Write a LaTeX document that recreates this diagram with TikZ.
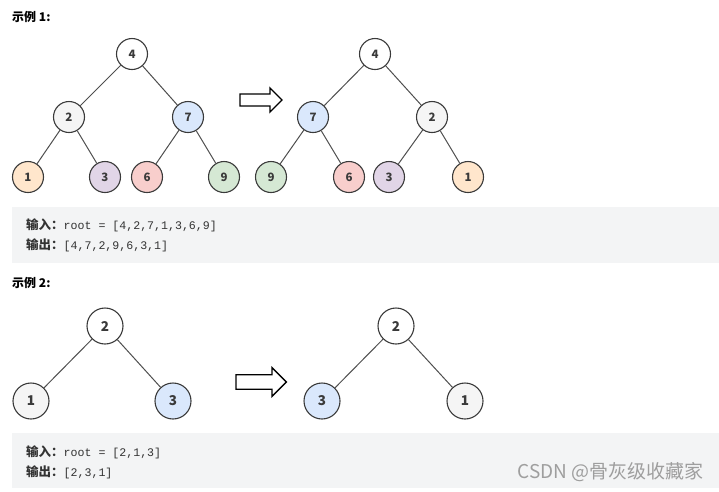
\documentclass[tikz,border=0pt]{standalone}
\usepackage{fontspec}
\setmainfont{Noto Sans CJK SC}
\setmonofont{Liberation Mono}
\usepackage{tikz}
\usetikzlibrary{positioning,calc}

\definecolor{boxgray}{HTML}{F3F4F5}
\definecolor{linegray}{HTML}{3A3A3A}
\definecolor{fillgray}{HTML}{F5F5F5}
\definecolor{fillblue}{HTML}{DAE8FC}
\definecolor{fillorange}{HTML}{FFE6CC}
\definecolor{fillpurple}{HTML}{E1D5E7}
\definecolor{fillred}{HTML}{F8CECC}
\definecolor{fillgreen}{HTML}{D5E8D4}
\definecolor{codegray}{HTML}{333333}

\newcommand{\codetxt}[1]{{\fontsize{11.6}{13}\selectfont\texttt{#1}}}

\tikzset{
  tnode/.style={circle, draw=linegray, line width=1.1pt, minimum size=31pt, inner sep=0pt,
    font=\fontsize{11.5}{13}\selectfont\bfseries, text=linegray},
  bignode/.style={tnode, minimum size=36pt, font=\fontsize{13.5}{15}\selectfont\bfseries},
  tedge/.style={draw=linegray!90, line width=1pt},
  codebox/.style={fill=boxgray, draw=none},
  codeline/.style={anchor=west, inner sep=0pt, text=codegray, font=\fontsize{12.5}{14}\selectfont},
  caption/.style={anchor=west, inner sep=0pt, font=\fontsize{12}{14}\selectfont\bfseries, text=black},
  bigarrow/.pic={\draw[line width=1.3pt, fill=white, line join=miter]
    (0,-6) -- (30,-6) -- (30,-12) -- (42,0) -- (30,12) -- (30,6) -- (0,6) -- cycle;}
}

\begin{document}
\begin{tikzpicture}[x=1pt, y=-1pt]

\useasboundingbox (0,0) rectangle (719,491);

% Example 1
\node[caption] (cap1) at (12,17) {示例 1:};

% left tree
\node[tnode, fill=white] (a4) at (132,54) {4};
\node[tnode, fill=fillgray] (a2) at (69,117) {2};
\node[tnode, fill=fillblue] (a7) at (188,117) {7};
\node[tnode, fill=fillorange] (a1) at (28,177) {1};
\node[tnode, fill=fillpurple] (a3) at (105,177) {3};
\node[tnode, fill=fillred] (a6) at (147,177) {6};
\node[tnode, fill=fillgreen] (a9) at (224,177) {9};

\draw[tedge] (a4) -- (a2);
\draw[tedge] (a4) -- (a7);
\draw[tedge] (a2) -- (a1);
\draw[tedge] (a2) -- (a3);
\draw[tedge] (a7) -- (a6);
\draw[tedge] (a7) -- (a9);

\pic at (240,100) {bigarrow};

% right tree
\node[tnode, fill=white] (b4) at (375,54) {4};
\node[tnode, fill=fillblue] (b7) at (313,117) {7};
\node[tnode, fill=fillgray] (b2) at (432,117) {2};
\node[tnode, fill=fillgreen] (b9) at (271,177) {9};
\node[tnode, fill=fillred] (b6) at (349,177) {6};
\node[tnode, fill=fillpurple] (b3) at (389,177) {3};
\node[tnode, fill=fillorange] (b1) at (468,177) {1};

\draw[tedge] (b4) -- (b7);
\draw[tedge] (b4) -- (b2);
\draw[tedge] (b7) -- (b9);
\draw[tedge] (b7) -- (b6);
\draw[tedge] (b2) -- (b3);
\draw[tedge] (b2) -- (b1);

% Input / output 1
\fill[codebox] (12,207) rectangle (719,263);
\node[codeline] (in1) at (26,225) {\textbf{输入：}\codetxt{root = [4,2,7,1,3,6,9]}};
\node[codeline] (out1) at (26,245) {\textbf{输出：}\codetxt{[4,7,2,9,6,3,1]}};

% Example 2
\node[caption] (cap2) at (12,283) {示例 2:};

\node[bignode, fill=white] (c2) at (105,326) {2};
\node[bignode, fill=fillgray] (c1) at (31,401) {1};
\node[bignode, fill=fillblue] (c3) at (173,401) {3};

\draw[tedge] (c2) -- (c1);
\draw[tedge] (c2) -- (c3);

\pic[scale=1.2] at (236,382) {bigarrow};

\node[bignode, fill=white] (d2) at (396,326) {2};
\node[bignode, fill=fillblue] (d3) at (322,401) {3};
\node[bignode, fill=fillgray] (d1) at (465,401) {1};

\draw[tedge] (d2) -- (d3);
\draw[tedge] (d2) -- (d1);

% Input / output 2
\fill[codebox] (12,433) rectangle (719,488);
\node[codeline] (in2) at (26,452) {\textbf{输入：}\codetxt{root = [2,1,3]}};
\node[codeline] (out2) at (26,472) {\textbf{输出：}\codetxt{[2,3,1]}};

% watermark
\node[anchor=east, inner sep=0pt, text=black!38, font=\fontsize{19}{21}\selectfont] (mark) at (704,472) {CSDN @骨灰级收藏家};

\end{tikzpicture}
\end{document}
